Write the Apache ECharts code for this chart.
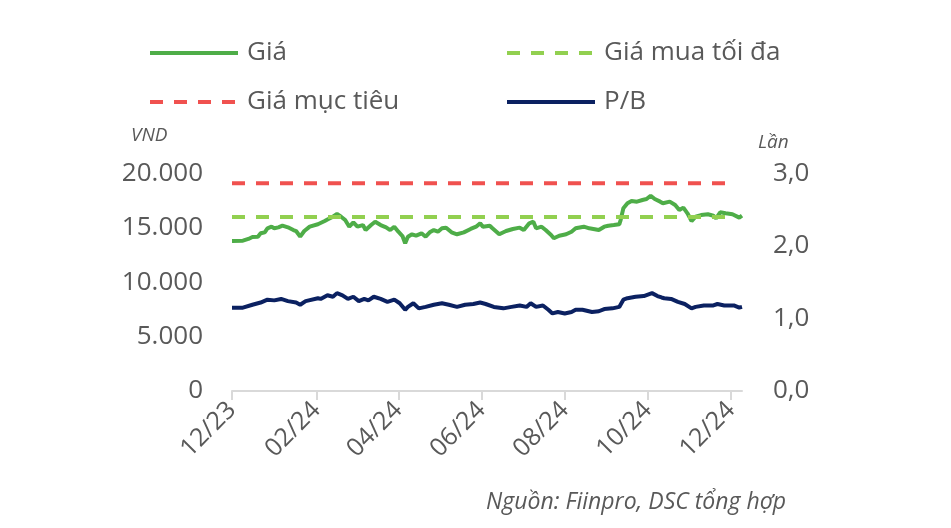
<!DOCTYPE html>
<html>
<head>
<meta charset="utf-8">
<script src="https://cdn.jsdelivr.net/npm/echarts@6/dist/echarts.min.js"></script>
<style>html,body{margin:0;padding:0;background:#fff;}#c{width:951px;height:528px;}</style>
</head>
<body>
<div id="c"></div>
<script>
// ---- data ----
const seriesNames = ['Giá', 'Giá mua tối đa', 'Giá mục tiêu', 'P/B'];
const startDate = '2023-12-01';
const endDate = '2024-12-09';
const tickMonths = [12, 2, 4, 6, 8, 10];

const giaDates = ['2023-12-01','2023-12-09','2023-12-13','2023-12-16','2023-12-20','2023-12-22','2023-12-25','2023-12-27','2023-12-30',
'2024-01-01','2024-01-04','2024-01-07','2024-01-11','2024-01-15','2024-01-17','2024-01-20','2024-01-23','2024-01-27',
'2024-02-02','2024-02-07','2024-02-09','2024-02-13','2024-02-16','2024-02-19','2024-02-22','2024-02-25','2024-02-28',
'2024-03-02','2024-03-06','2024-03-08','2024-03-12','2024-03-15','2024-03-19','2024-03-23','2024-03-26','2024-03-29',
'2024-04-01','2024-04-04','2024-04-06','2024-04-08','2024-04-11','2024-04-14','2024-04-18','2024-04-21','2024-04-24','2024-04-27','2024-04-30',
'2024-05-03','2024-05-06','2024-05-10','2024-05-14','2024-05-19','2024-05-24','2024-05-28','2024-05-31',
'2024-06-02','2024-06-07','2024-06-09','2024-06-14','2024-06-19','2024-06-24','2024-06-29',
'2024-07-02','2024-07-06','2024-07-09','2024-07-11','2024-07-15','2024-07-18','2024-07-22','2024-07-24','2024-07-28',
'2024-08-02','2024-08-06','2024-08-09','2024-08-15','2024-08-19','2024-08-22','2024-08-26','2024-08-30',
'2024-09-02','2024-09-06','2024-09-10','2024-09-11','2024-09-13','2024-09-16','2024-09-19','2024-09-23','2024-09-27','2024-09-30',
'2024-10-03','2024-10-06','2024-10-10','2024-10-12','2024-10-17','2024-10-21','2024-10-24','2024-10-27','2024-10-30',
'2024-11-02','2024-11-05','2024-11-09','2024-11-14','2024-11-18','2024-11-20','2024-11-23','2024-11-27',
'2024-12-02','2024-12-07','2024-12-09'];
const giaValues = [13800,13820,13980,14160,14190,14500,14590,14960,15110,
14960,15050,15200,15050,14800,14710,14190,14710,15110,
15330,15630,15770,16030,16280,16030,15720,15110,15510,
15110,15260,14800,15260,15570,15260,15050,14800,15110,
14650,14250,13580,14190,14410,14280,14500,14190,14590,14800,14650,
14960,15020,14590,14410,14590,14900,15110,15420,
15110,15200,14960,14410,14710,14900,15020,
14800,15420,15570,14960,15110,14800,14340,14040,14280,
14410,14650,14960,15110,14960,14900,14800,15110,
15200,15260,15330,15720,16800,17260,17470,17410,17560,17650,
17960,17650,17410,17260,17410,17100,16640,16860,16340,
15630,16030,16180,16250,16120,15880,16430,16340,
16250,15940,16120];

const pbDates = ['2023-12-01','2023-12-09','2023-12-16','2023-12-22','2023-12-27',
'2024-01-01','2024-01-06','2024-01-11','2024-01-17','2024-01-20','2024-01-24',
'2024-02-02','2024-02-04','2024-02-09','2024-02-13','2024-02-16','2024-02-20','2024-02-24','2024-02-28',
'2024-03-03','2024-03-07','2024-03-10','2024-03-14','2024-03-19','2024-03-24','2024-03-29',
'2024-04-02','2024-04-06','2024-04-08','2024-04-12','2024-04-16','2024-04-21','2024-04-27',
'2024-05-03','2024-05-08','2024-05-14','2024-05-20','2024-05-26','2024-05-31',
'2024-06-04','2024-06-10','2024-06-17','2024-06-23','2024-06-29',
'2024-07-04','2024-07-07','2024-07-11','2024-07-16','2024-07-20','2024-07-23','2024-07-27',
'2024-08-01','2024-08-06','2024-08-09','2024-08-14','2024-08-21','2024-08-26','2024-08-30',
'2024-09-05','2024-09-10','2024-09-13','2024-09-16','2024-09-22','2024-09-28',
'2024-10-04','2024-10-08','2024-10-11','2024-10-13','2024-10-18','2024-10-23','2024-10-28',
'2024-11-02','2024-11-05','2024-11-11','2024-11-18','2024-11-21','2024-11-26',
'2024-12-03','2024-12-07','2024-12-09'];
const pbValues = [1.15,1.15,1.19,1.22,1.26,
1.25,1.27,1.24,1.22,1.19,1.24,
1.28,1.27,1.32,1.30,1.35,1.32,1.27,1.30,
1.24,1.27,1.25,1.30,1.27,1.23,1.26,
1.21,1.12,1.16,1.21,1.14,1.16,1.19,
1.21,1.19,1.16,1.19,1.20,1.22,
1.20,1.16,1.14,1.16,1.18,
1.16,1.21,1.16,1.18,1.12,1.07,1.09,
1.07,1.09,1.12,1.12,1.09,1.10,1.13,
1.14,1.16,1.26,1.28,1.30,1.31,
1.35,1.31,1.29,1.28,1.27,1.23,1.20,
1.14,1.16,1.18,1.18,1.20,1.18,
1.18,1.15,1.16];

const maxBuyDates = ['2023-12-01','2024-12-01'];
const maxBuyValues = [16000, 16000];
const targetDates = ['2023-12-01','2024-12-01'];
const targetValues = [19100, 19100];

const leftTicks = {min: 0, max: 20000, interval: 5000};
const rightTicks = {min: 0, max: 3, interval: 1};

// ---- build ----
function dayList(a, b) {
  const out = [];
  let t = Date.UTC(+a.slice(0,4), +a.slice(5,7)-1, +a.slice(8,10));
  const e = Date.UTC(+b.slice(0,4), +b.slice(5,7)-1, +b.slice(8,10));
  while (t <= e) { out.push(new Date(t).toISOString().slice(0,10)); t += 86400000; }
  return out;
}
const categories = dayList(startDate, endDate);
const pair = (d, v) => d.map((x, i) => [x, v[i]]);
const isTick = (idx, val) => val.slice(8,10) === '01' && tickMonths.includes(+val.slice(5,7));

const FONT = '"Open Sans", "Noto Sans", sans-serif';
const GREY = '#595959';
const legendBase = {orient: 'vertical', padding: 0, itemWidth: 88, itemHeight: 14, itemGap: 23, top: 40,
  itemStyle: {opacity: 0}, lineStyle: {width: 4},
  textStyle: {fontSize: 26, color: GREY, fontFamily: FONT, padding: [0,0,0,4]}};
const chart = echarts.init(document.getElementById('c'), null, {renderer: 'canvas'});
chart.setOption({
  animation: false,
  backgroundColor: '#fff',
  textStyle: {fontFamily: FONT},
  grid: {left: 232, right: 209, top: 173.5, bottom: 137, containLabel: false},
  title: [
    {text: 'VND', left: 126, top: 121, textStyle: {fontSize: 19, fontStyle: 'italic', fontWeight: 'normal', color: GREY, fontFamily: FONT}},
    {text: 'Lần', left: 753, top: 128, textStyle: {fontSize: 19, fontStyle: 'italic', fontWeight: 'normal', color: GREY, fontFamily: FONT}},
    {text: 'Nguồn: Fiinpro, DSC tổng hợp', right: 160, top: 486, textStyle: {fontSize: 23, fontStyle: 'italic', fontWeight: 'normal', color: GREY, fontFamily: FONT}}
  ],
  legend: [
    Object.assign({}, legendBase, {left: 148, data: ['Giá', 'Giá mục tiêu']}),
    Object.assign({}, legendBase, {left: 505, data: ['Giá mua tối đa', 'P/B']})
  ],
  xAxis: {
    type: 'category', data: categories, boundaryGap: false,
    axisLine: {lineStyle: {color: '#D9D9D9', width: 2}},
    axisTick: {interval: isTick, length: 9, lineStyle: {color: '#D9D9D9', width: 2}},
    axisLabel: {interval: isTick, rotate: 45, margin: 15, fontSize: 25, color: GREY, fontFamily: FONT,
      formatter: v => v.slice(5,7) + '/' + v.slice(2,4)},
    splitLine: {show: false}
  },
  yAxis: [
    {type: 'value', min: leftTicks.min, max: leftTicks.max, interval: leftTicks.interval,
     axisLine: {show: false}, axisTick: {show: false}, splitLine: {show: false},
     axisLabel: {margin: 29, fontSize: 26, color: GREY, fontFamily: FONT,
       formatter: v => String(v).replace(/\B(?=(\d{3})+(?!\d))/g, '.')}},
    {type: 'value', position: 'right', min: rightTicks.min, max: rightTicks.max, interval: rightTicks.interval,
     axisLine: {show: false}, axisTick: {show: false}, splitLine: {show: false},
     axisLabel: {margin: 31, fontSize: 26, color: GREY, fontFamily: FONT,
       formatter: v => v.toFixed(1).replace('.', ',')}}
  ],
  series: [
    {name: 'Giá', type: 'line', yAxisIndex: 0, symbol: 'none', data: pair(giaDates, giaValues),
     lineStyle: {color: '#4EAD48', width: 4}, itemStyle: {color: '#4EAD48'}},
    {name: 'Giá mua tối đa', type: 'line', yAxisIndex: 0, symbol: 'none', data: pair(maxBuyDates, maxBuyValues),
     lineStyle: {color: '#92D050', width: 4, type: [13, 11]}, itemStyle: {color: '#92D050'}},
    {name: 'Giá mục tiêu', type: 'line', yAxisIndex: 0, symbol: 'none', data: pair(targetDates, targetValues),
     lineStyle: {color: '#F0514F', width: 4, type: [13, 11]}, itemStyle: {color: '#F0514F'}},
    {name: 'P/B', type: 'line', yAxisIndex: 1, symbol: 'none', data: pair(pbDates, pbValues),
     lineStyle: {color: '#0B2161', width: 4}, itemStyle: {color: '#0B2161'}}
  ]
});
</script>
</body>
</html>
